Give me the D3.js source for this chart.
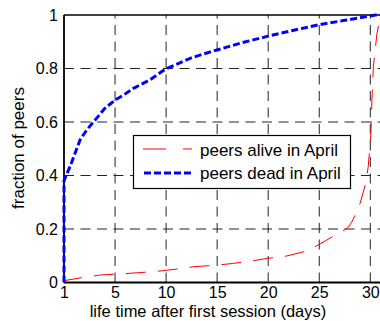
<!DOCTYPE html>
<html><head><meta charset="utf-8">
<script src="https://cdn.jsdelivr.net/npm/d3@7"></script>
<style>body{margin:0;background:#fff}svg{display:block}text{font-family:"Liberation Sans",Arial,sans-serif}</style>
</head><body><svg id="c" width="380" height="321"></svg>
<script>
const xTicks = [0, 5, 10, 15, 20, 25, 30];
const xTickLabels = ["1", "5", "10", "15", "20", "25", "30"];
const yTicks = [0, 0.2, 0.4, 0.6, 0.8, 1];
const yTickLabels = ["0", "0.2", "0.4", "0.6", "0.8", "1"];
const seriesNames = ["peers alive in April", "peers dead in April"];
const aliveDays = [0,0.02,1.73,3.53,5.5,7.45,9.4,11,12.7,14.97,16.5,17.9,19.9,21.8,23.8,24.9,25.75,26.9,27.8,28.2,28.6,29.0,29.5,29.8,30.06,30.16,30.3,30.65,30.9,31.2];
const aliveFrac = [0,0.007,0.018,0.028,0.032,0.037,0.043,0.05,0.059,0.065,0.071,0.078,0.09,0.099,0.118,0.14,0.159,0.184,0.205,0.227,0.26,0.296,0.364,0.433,0.558,0.682,0.807,0.93,0.98,1.0];
const deadDays = [0,0.001,0.1,0.59,1.08,1.57,2.22,3.04,4.0,5.0,5.8,6.8,8.4,9.9,11,12.35,13.7,14.97,17.5,20,22.5,24.9,27.5,30,30.5,32];
const deadFrac = [0,0.38,0.39,0.433,0.483,0.533,0.57,0.607,0.651,0.682,0.7,0.726,0.757,0.797,0.815,0.838,0.855,0.869,0.897,0.921,0.943,0.963,0.98,0.996,1.0,1.0];

const svg = d3.select("#c");
const L = 64, T = 15, B = 282.5;
const x = d3.scaleLinear().domain([0, 32]).range([L, L + 32 * 10.21]);
const y = d3.scaleLinear().domain([0, 1]).range([B, T]);
const R = x(32);

// grid
const g = svg.append("g");
g.selectAll(".vg").data(xTicks.slice(1)).join("line")
  .attr("x1", d => x(d)).attr("x2", d => x(d)).attr("y1", B).attr("y2", T)
  .attr("stroke", "#222").attr("stroke-width", 1).attr("stroke-dasharray", "10,6.5");
g.selectAll(".hg").data(yTicks.slice(1, -1)).join("line")
  .attr("x1", L).attr("x2", R).attr("y1", d => y(d)).attr("y2", d => y(d))
  .attr("stroke", "#222").attr("stroke-width", 1).attr("stroke-dasharray", "10,6.5");

// axes
const xAxis = d3.axisBottom(x).tickValues(xTicks).tickFormat((d, i) => xTickLabels[i]).tickSize(0).tickPadding(4.5);
const yAxis = d3.axisLeft(y).tickValues(yTicks).tickFormat((d, i) => yTickLabels[i]).tickSize(0).tickPadding(6);
const xa = svg.append("g").attr("transform", `translate(0,${B})`).call(xAxis);
const ya = svg.append("g").attr("transform", `translate(${L},0)`).call(yAxis);
[xa, ya].forEach(a => { a.select(".domain").remove(); a.selectAll("text").attr("font-size", 16).attr("fill", "#000").attr("font-family", "Liberation Sans, Arial, sans-serif"); });

// box
svg.append("line").attr("x1", L).attr("x2", R).attr("y1", T).attr("y2", T).attr("stroke", "#000").attr("stroke-width", 1.3);
svg.append("line").attr("x1", L).attr("x2", R).attr("y1", B).attr("y2", B).attr("stroke", "#000").attr("stroke-width", 1.8);
svg.append("line").attr("x1", L).attr("x2", L).attr("y1", B).attr("y2", T).attr("stroke", "#000").attr("stroke-width", 1.8);

// lines
const line = d3.line().x(d => x(d[0])).y(d => y(d[1]));
svg.append("path").datum(aliveDays.map((d, i) => [d, aliveFrac[i]]))
  .attr("d", line).attr("fill", "none").attr("stroke", "#ff0000").attr("stroke-width", 1)
  .attr("stroke-dasharray", "20,12");
svg.append("path").datum(deadDays.map((d, i) => [d, deadFrac[i]]))
  .attr("d", line).attr("fill", "none").attr("stroke", "#0000ff").attr("stroke-width", 3)
  .attr("stroke-dasharray", "7,3");

// legend
const lg = svg.append("g");
lg.append("rect").attr("x", 133.5).attr("y", 135.5).attr("width", 217).attr("height", 53)
  .attr("fill", "#fff").attr("stroke", "#000").attr("stroke-width", 1.2);
lg.append("line").attr("x1", 143).attr("x2", 192).attr("y1", 149).attr("y2", 149)
  .attr("stroke", "#ff0000").attr("stroke-width", 1).attr("stroke-dasharray", "23,17");
lg.append("line").attr("x1", 144).attr("x2", 194).attr("y1", 173).attr("y2", 173)
  .attr("stroke", "#0000ff").attr("stroke-width", 3).attr("stroke-dasharray", "7,3");
lg.selectAll("text").data(seriesNames).join("text")
  .attr("x", 200).attr("y", (d, i) => 155.5 + i * 23.5).attr("font-size", 17).text(d => d);

// axis labels
svg.append("text").attr("x", 208).attr("y", 317).attr("text-anchor", "middle").attr("font-size", 16.5)
  .text("life time after first session (days)");
svg.append("text").attr("transform", "translate(24,148) rotate(-90)").attr("text-anchor", "middle").attr("font-size", 17)
  .text("fraction of peers");
</script></body></html>
